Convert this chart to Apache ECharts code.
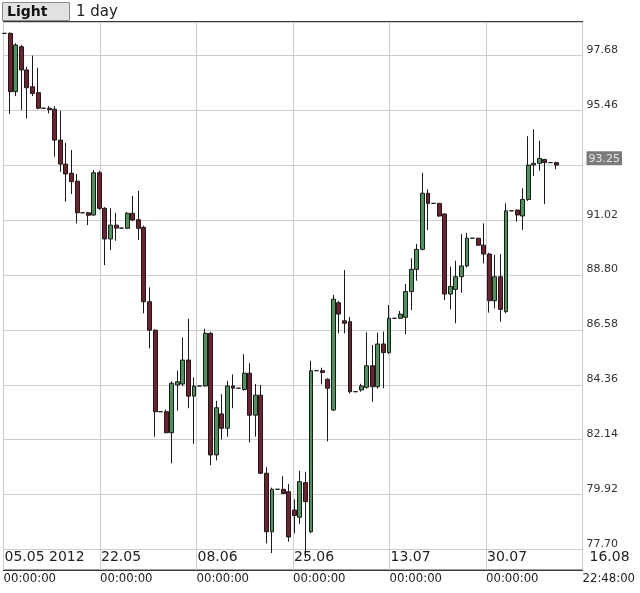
<!DOCTYPE html>
<html><head><meta charset="utf-8">
<script src="https://cdn.jsdelivr.net/npm/echarts@6/dist/echarts.min.js"></script>
<style>html,body{margin:0;padding:0;background:#fff}#c{width:640px;height:593px}</style>
</head><body><div id="c"></div>
<script>
// daily candles (Saturday = flat mark)
const dates = [
'2012-05-05','2012-05-06','2012-05-07','2012-05-08','2012-05-09','2012-05-10','2012-05-11','2012-05-12','2012-05-13','2012-05-14',
'2012-05-15','2012-05-16','2012-05-17','2012-05-18','2012-05-19','2012-05-20','2012-05-21','2012-05-22','2012-05-23','2012-05-24',
'2012-05-25','2012-05-26','2012-05-27','2012-05-28','2012-05-29','2012-05-30','2012-05-31','2012-06-01','2012-06-02','2012-06-03',
'2012-06-04','2012-06-05','2012-06-06','2012-06-07','2012-06-08','2012-06-09','2012-06-10','2012-06-11','2012-06-12','2012-06-13',
'2012-06-14','2012-06-15','2012-06-16','2012-06-17','2012-06-18','2012-06-19','2012-06-20','2012-06-21','2012-06-22','2012-06-23',
'2012-06-24','2012-06-25','2012-06-26','2012-06-27','2012-06-28','2012-06-29','2012-06-30','2012-07-01','2012-07-02','2012-07-03',
'2012-07-04','2012-07-05','2012-07-06','2012-07-07','2012-07-08','2012-07-09','2012-07-10','2012-07-11','2012-07-12','2012-07-13',
'2012-07-14','2012-07-15','2012-07-16','2012-07-17','2012-07-18','2012-07-19','2012-07-20','2012-07-21','2012-07-22','2012-07-23',
'2012-07-24','2012-07-25','2012-07-26','2012-07-27','2012-07-28','2012-07-29','2012-07-30','2012-07-31','2012-08-01','2012-08-02',
'2012-08-03','2012-08-04','2012-08-05','2012-08-06','2012-08-07','2012-08-08','2012-08-09','2012-08-10','2012-08-11','2012-08-12'];
const openV = [
98.58,98.58,96.22,98.04,97.10,96.42,96.18,95.55,95.55,95.51,
94.26,93.29,92.92,92.60,91.32,91.32,91.23,92.94,91.50,90.26,
90.82,90.70,90.69,91.30,91.04,90.73,87.72,86.57,83.27,83.27,
82.42,84.35,84.39,85.36,83.90,84.31,84.31,86.44,81.52,83.18,
82.60,84.31,84.22,84.17,84.83,83.13,83.94,80.78,78.41,80.13,
80.13,80.03,79.29,79.00,80.40,78.41,84.93,84.93,84.58,83.34,
87.68,86.95,86.91,84.08,84.15,84.26,85.13,84.28,86.01,85.66,
87.05,87.05,87.09,88.13,89.03,89.84,92.11,91.70,91.70,91.27,
88.03,88.22,88.73,89.17,90.29,90.29,90.01,89.65,87.76,88.73,
87.32,91.40,91.43,91.19,91.86,93.25,93.32,93.48,93.35,93.35];
const highV = [
98.58,98.62,98.18,98.11,97.23,97.68,97.19,95.55,95.64,95.64,
95.45,94.15,93.86,92.89,91.32,91.36,93.05,93.03,91.55,91.50,
91.32,90.70,91.35,92.00,92.21,90.80,88.30,86.60,83.27,83.36,
84.50,84.93,86.28,87.03,84.66,84.31,86.63,86.50,83.71,83.98,
84.52,84.78,84.22,85.60,85.23,84.39,84.35,81.02,80.20,80.13,
80.66,80.34,79.72,80.88,80.84,85.33,84.93,85.05,84.62,87.99,
87.75,89.00,87.11,84.08,84.40,86.48,85.97,86.47,86.51,87.59,
87.05,87.35,88.44,89.48,90.06,92.94,92.27,91.70,91.72,91.30,
89.14,89.38,90.46,90.51,90.29,90.31,90.89,89.70,89.61,89.65,
91.70,91.40,91.45,92.31,94.42,94.70,94.24,93.50,93.35,93.38];
const lowV = [
98.58,95.32,96.04,95.48,95.14,96.04,95.51,95.55,95.34,93.59,
92.98,91.77,92.08,90.89,91.32,90.82,91.20,91.44,89.20,89.81,
90.19,90.70,90.66,90.98,90.22,87.25,85.83,82.26,83.27,82.40,
81.18,83.31,84.30,83.41,81.97,84.31,84.28,81.11,81.30,82.15,
82.26,83.41,84.22,84.12,82.03,82.26,80.75,77.94,77.55,80.13,
79.94,78.01,78.35,78.72,77.35,78.35,84.93,84.38,82.07,83.30,
86.44,86.44,84.01,84.08,84.08,84.20,83.67,84.20,84.22,85.60,
87.05,87.02,86.41,87.38,88.57,89.80,90.62,91.70,91.15,87.79,
87.41,86.85,88.08,89.10,90.29,89.98,89.27,87.28,87.45,86.91,
87.25,91.40,90.96,90.62,91.80,92.81,93.02,91.67,93.35,93.08];
const closeV = [
98.58,96.22,98.11,97.10,96.38,96.15,95.55,95.55,95.50,94.26,
93.29,92.89,92.58,91.32,91.32,91.22,92.94,91.50,90.26,90.82,
90.70,90.70,91.30,91.03,90.69,87.72,86.57,83.27,83.27,82.42,
84.42,84.48,85.36,83.90,84.31,84.31,86.44,81.52,83.43,82.60,
84.31,84.22,84.22,84.83,83.13,83.94,80.78,78.41,80.13,80.13,
79.96,78.20,79.07,80.44,79.63,84.93,84.93,84.86,84.22,87.82,
87.22,86.85,84.08,84.08,84.31,85.13,84.28,86.01,85.66,87.05,
87.05,87.22,88.13,89.03,89.84,92.11,91.70,91.70,91.19,88.03,
88.34,88.73,89.17,90.29,90.29,90.01,89.65,87.76,88.73,87.41,
91.40,91.40,91.23,91.86,93.25,93.32,93.52,93.35,93.35,93.25];

// axis ticks
const yTickLabels = ['77.70','79.92','82.14','84.36','86.58','88.80','91.02','93.24','95.46','97.68'];
const currentPrice = '93.25';
const xTickDates = ['05.05 2012','22.05','08.06','25.06','13.07','30.07','16.08'];
const xTickTimes = ['00:00:00','00:00:00','00:00:00','00:00:00','00:00:00','00:00:00','22:48:00'];

const baseUTC = Date.UTC(2012, 4, 5);
const SESSION_MIN = 300;          // candle stamp within the day (minutes)
const X_MAX = 149688;             // 16.08 22:48 in minutes from 05.05 00:00
const X_INT = 24948;              // X_MAX / 6
const Y_STEP = 2.22, Y_MIN = 75.48, Y_MAX = 99.04;

function toMin(s){ const p = s.split('-'); return (Date.UTC(+p[0], +p[1]-1, +p[2]) - baseUTC)/60000 + SESSION_MIN; }
const candleData = dates.map((d,i)=>[toMin(d), openV[i], closeV[i], lowV[i], highV[i]]);

const FONT = 'DejaVu Sans';
const chart = echarts.init(document.getElementById('c'), null, {renderer:'canvas'});
chart.setOption({
  animation:false,
  backgroundColor:'#ffffff',
  grid:[
    {left:3.5, right:57.5, top:22, height:582.2, outerBoundsMode:'none', containLabel:false},
    {left:3.5, right:57.5, top:22, height:548, outerBoundsMode:'none', containLabel:false,
     show:true, borderColor:'#3a3a3a', borderWidth:1, backgroundColor:'transparent'}
  ],
  xAxis:[
    {gridIndex:0, type:'value', min:0, max:X_MAX, show:false},
    {gridIndex:1, type:'value', min:0, max:X_MAX, interval:X_INT,
     axisLine:{show:true, lineStyle:{color:'#3a3a3a', width:1}},
     axisTick:{show:false},
     splitLine:{show:true, lineStyle:{color:'#cdcdcd', width:1}},
     axisLabel:{show:true, showMinLabel:true, showMaxLabel:true, align:'left', margin:-24,
       formatter:function(v){
         const k = Math.round(v / X_INT);
         if (k < 0 || k >= xTickDates.length) return '';
         const st = (k === xTickDates.length-1) ? 'L' : '';
         return '{d'+st+'|'+xTickDates[k]+'}\n{t|'+xTickTimes[k]+'}';
       },
       rich:{
         d:{fontFamily:FONT, fontSize:14, color:'#222', lineHeight:22, padding:[0,0,0,1]},
         dL:{fontFamily:FONT, fontSize:14, color:'#222', lineHeight:22, padding:[0,0,0,7]},
         t:{fontFamily:'DejaVu Sans Condensed, DejaVu Sans', fontSize:13, color:'#222', lineHeight:22}
       }}
    }
  ],
  yAxis:[
    {gridIndex:0, type:'value', position:'right', min:Y_MIN, max:Y_MAX, interval:Y_STEP,
     axisLine:{show:false}, axisTick:{show:false},
     splitLine:{show:true, lineStyle:{color:'#cdcdcd', width:1}},
     axisLabel:{show:true, showMaxLabel:false, margin:4, verticalAlign:'bottom',
       fontFamily:FONT, fontSize:11, color:'#333',
       formatter:function(v){
         const k = Math.round((v - 77.70)/Y_STEP);
         if (k < 0 || k >= yTickLabels.length || Math.abs(v - (77.70 + k*Y_STEP)) > 0.01) return '';
         if (yTickLabels[k] === '93.24') return '{cur|'+currentPrice+'}';
         return yTickLabels[k];
       },
       rich:{cur:{backgroundColor:'#7b7b7b', color:'#e6e6e6', fontFamily:FONT, fontSize:11, padding:[2,2,1,2]}}
     }},
    {gridIndex:1, type:'value', min:0, max:1, show:false}
  ],
  series:[{
    type:'candlestick', xAxisIndex:0, yAxisIndex:0,
    data:candleData, encode:{x:0, y:[1,2,3,4]},
    barWidth:4.4,
    itemStyle:{color:'#4c955a', color0:'#72202d', borderColor:'#1a1a1a', borderColor0:'#1a1a1a',
               borderColorDoji:'#1a1a1a', borderWidth:1}
  }],
  graphic:[
    {type:'line', shape:{x1:3, y1:22, x2:583, y2:22}, style:{stroke:'#3a3a3a', lineWidth:2}},
    {type:'rect', shape:{x:2.5, y:2.5, width:67, height:18}, style:{fill:'#e2e2e2', stroke:'#8c8c8c', lineWidth:1}},
    {type:'text', x:7, y:12, style:{text:'Light', font:'bold 14px DejaVu Sans', fill:'#111', verticalAlign:'middle'}},
    {type:'text', x:76, y:12, style:{text:'1 day', font:'15px DejaVu Sans', fill:'#222', verticalAlign:'middle'}}
  ]
});
</script></body></html>
